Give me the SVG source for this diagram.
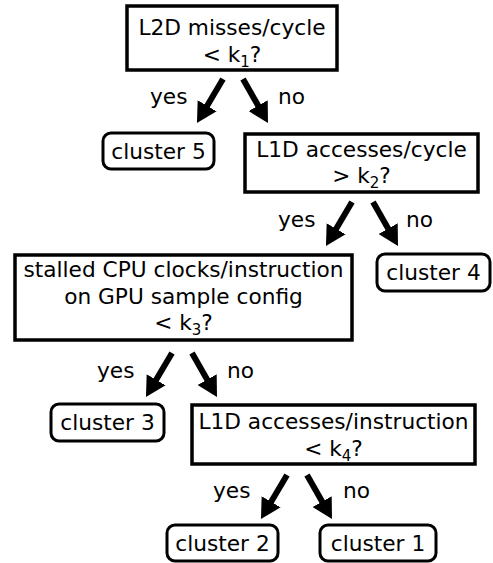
<svg xmlns="http://www.w3.org/2000/svg" width="493" height="563" viewBox="0 0 493 563">
<style>
text{font-family:"DejaVu Sans",sans-serif;font-size:21.7px;fill:#000}
.c{text-anchor:middle}
.box{fill:#fff;stroke:#000;stroke-width:3.5}
.leaf{fill:#fff;stroke:#000;stroke-width:3}
.arr{stroke:#000;stroke-width:6;marker-end:url(#ah)}
.sub{font-size:15px}
</style>
<defs>
<marker id="ah" markerUnits="userSpaceOnUse" viewBox="0 0 20 22" markerWidth="20" markerHeight="22" refX="4" refY="11" orient="auto">
<path d="M0,0 L20,11 L0,22 z" fill="#000"/>
</marker>
</defs>
<rect width="493" height="563" fill="#fff"/>
<g id="q1">
<rect class="box" x="127" y="6" width="210" height="64"/>
<text class="c" x="232" y="35">L2D misses/cycle</text>
<text class="c" x="232" y="62">&lt; k<tspan class="sub" dy="5">1</tspan><tspan dy="-5">?</tspan></text>
</g>
<g id="cluster5">
<rect class="leaf" x="103" y="133" width="111" height="36" rx="8"/>
<text class="c" x="158.5" y="159">cluster 5</text>
</g>
<g id="q2">
<rect class="box" x="245" y="134" width="233" height="58"/>
<text class="c" x="361.5" y="157">L1D accesses/cycle</text>
<text class="c" x="361.5" y="183">&gt; k<tspan class="sub" dy="5">2</tspan><tspan dy="-5">?</tspan></text>
</g>
<g id="cluster4">
<rect class="leaf" x="377" y="254" width="113" height="37" rx="8"/>
<text class="c" x="433.5" y="280">cluster 4</text>
</g>
<g id="q3">
<rect class="box" x="15" y="255" width="337" height="85"/>
<text class="c" x="183.5" y="277">stalled CPU clocks/instruction</text>
<text class="c" x="183.5" y="304">on GPU sample config</text>
<text class="c" x="183.5" y="330">&lt; k<tspan class="sub" dy="5">3</tspan><tspan dy="-5">?</tspan></text>
</g>
<g id="cluster3">
<rect class="leaf" x="51" y="404" width="113" height="37" rx="8"/>
<text class="c" x="107.5" y="430">cluster 3</text>
</g>
<g id="q4">
<rect class="box" x="192" y="405" width="283" height="59"/>
<text class="c" x="333.5" y="429">L1D accesses/instruction</text>
<text class="c" x="333.5" y="456">&lt; k<tspan class="sub" dy="5">4</tspan><tspan dy="-5">?</tspan></text>
</g>
<g id="cluster2">
<rect class="leaf" x="167" y="525" width="111" height="36" rx="8"/>
<text class="c" x="222.5" y="551">cluster 2</text>
</g>
<g id="cluster1">
<rect class="leaf" x="320" y="525" width="116" height="36" rx="8"/>
<text class="c" x="378" y="551">cluster 1</text>
</g>
<g id="connectors">
<line class="arr" x1="223" y1="79" x2="205.1" y2="109.2"/>
<line class="arr" x1="243" y1="79" x2="260.1" y2="109.1"/>
<line class="arr" x1="352" y1="202" x2="334.1" y2="232.2"/>
<line class="arr" x1="373" y1="202" x2="390.1" y2="232.1"/>
<line class="arr" x1="172" y1="353" x2="154.1" y2="383.2"/>
<line class="arr" x1="192" y1="353" x2="209.1" y2="383.1"/>
<line class="arr" x1="287" y1="475" x2="269.1" y2="505.2"/>
<line class="arr" x1="307" y1="475" x2="324.1" y2="505.1"/>
<text x="150" y="104">yes</text>
<text x="278" y="104">no</text>
<text x="278" y="227">yes</text>
<text x="406" y="227">no</text>
<text x="97" y="378">yes</text>
<text x="227" y="378">no</text>
<text x="213" y="498">yes</text>
<text x="343" y="498">no</text>
</g>
</svg>
